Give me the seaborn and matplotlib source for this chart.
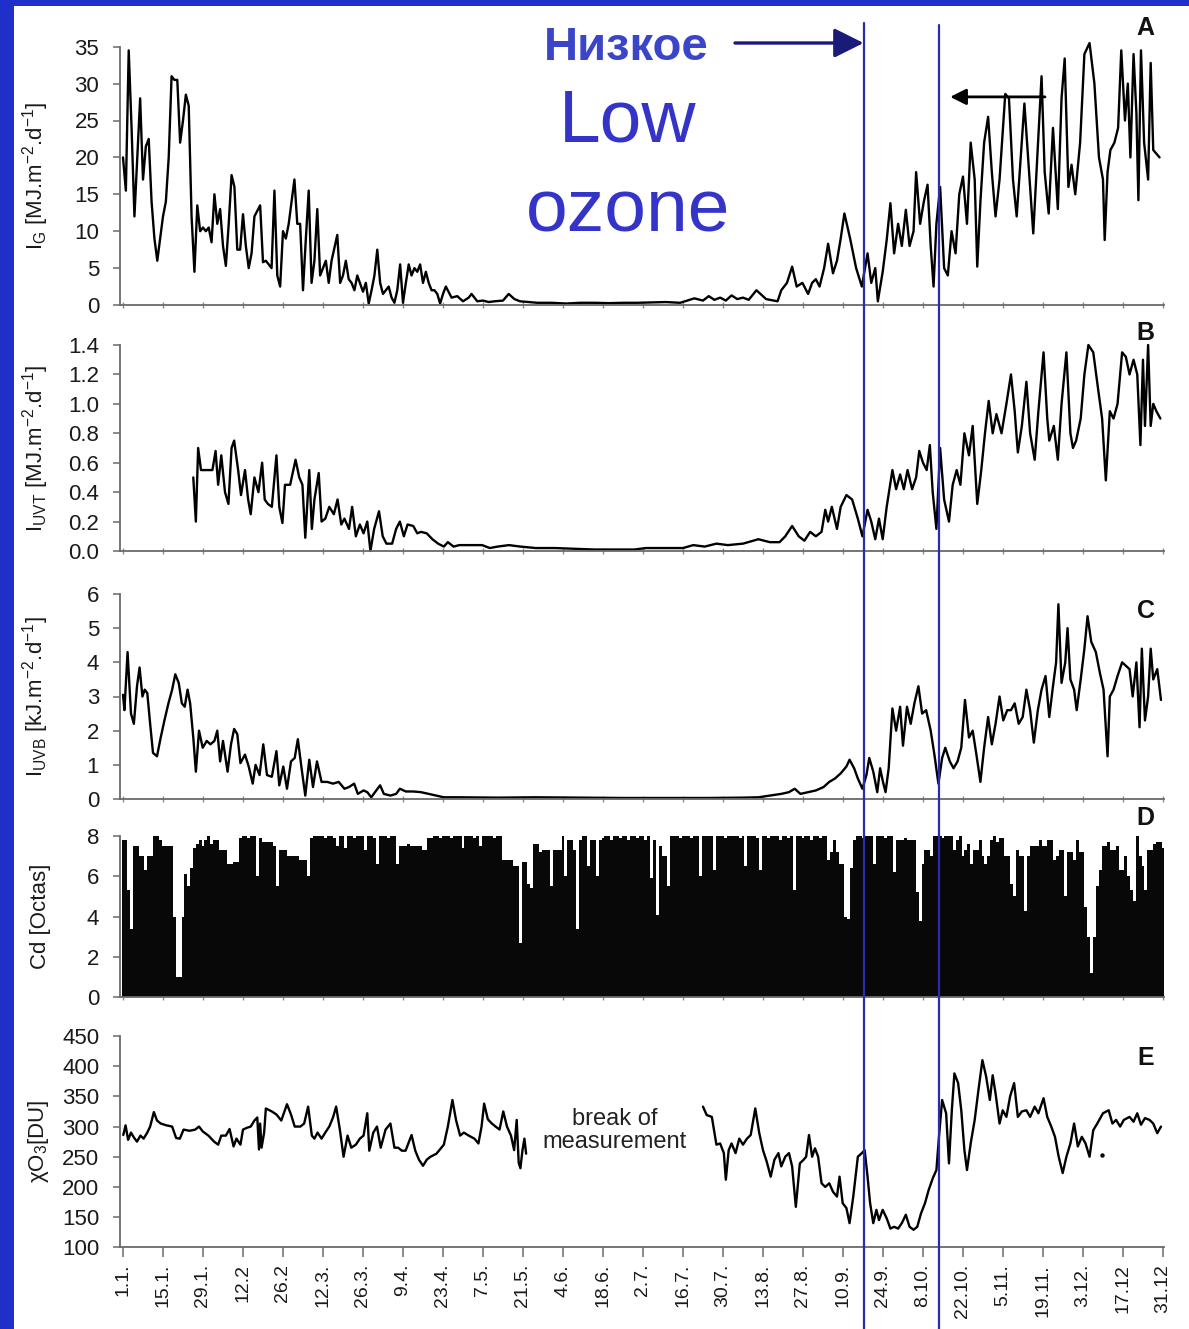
import numpy as np
import matplotlib
matplotlib.use("Agg")
import matplotlib.pyplot as plt
import matplotlib.transforms as mtransforms
from matplotlib.patches import Rectangle
from matplotlib.lines import Line2D
import seaborn as sns

sns.set_theme(style="white")
plt.rcParams["font.family"] = ["Liberation Sans", "DejaVu Sans"]
plt.rcParams["mathtext.default"] = "regular"

# ---------------- data (day of year from 1 Jan = 0) ----------------
tick_days = [0, 14, 28, 42, 56, 70, 84, 98, 112, 126, 140, 154, 168, 182, 196,
             210, 224, 238, 252, 266, 280, 294, 308, 322, 336, 350, 364]
tick_labels = ["1.1.", "15.1.", "29.1.", "12.2", "26.2", "12.3.", "26.3.", "9.4.",
               "23.4.", "7.5.", "21.5.", "4.6.", "18.6.", "2.7.", "16.7.", "30.7.",
               "13.8.", "27.8.", "10.9.", "24.9.", "8.10.", "22.10.", "5.11.",
               "19.11.", "3.12.", "17.12", "31.12"]

# A: global irradiance I_G [MJ m-2 d-1]
ig_points = [
    (0, 20), (1, 15.5), (2, 34.5), (3, 24), (4, 12), (5, 20), (6, 28), (7, 17), (8, 21.5),
    (9, 22.5), (10, 14), (11, 9), (12, 6), (13, 9), (14, 12), (15, 14), (16, 20), (17, 31),
    (18, 30.5), (19, 30.5), (20, 22), (21, 25), (22, 28.5), (23, 27), (24, 12), (25, 4.5),
    (26, 13.5), (27, 10), (28, 10.5), (29, 10), (30, 10.5), (31, 8.5), (32, 15), (33, 11),
    (34, 13), (35, 8), (36, 5.3), (37, 11), (38, 17.6), (39, 16), (40, 7.5), (41, 7.5),
    (42, 12.3), (43, 8), (44, 5), (45, 7), (46, 12), (48, 13.5), (49, 5.8), (50, 6), (52, 5),
    (53, 15.5), (54, 4), (55, 2.5), (56, 10), (57, 9), (58, 11), (60, 17), (61, 11), (62, 11),
    (63, 2), (64, 9), (65, 15.5), (66, 3), (67, 6), (68, 13), (69, 4), (70, 5), (71, 6),
    (72, 3), (73, 6), (75, 9.5), (76, 3), (77, 4), (78, 6), (79, 3.5), (80, 3), (81, 2),
    (82, 4), (84, 1.8), (85, 3), (86, 0.2), (87, 2), (88, 4), (89, 7.5), (90, 3), (91, 1.5),
    (92, 2), (93, 2.5), (94, 1), (95, 0.3), (96, 2), (97, 5.5), (98, 0.3), (99, 3), (100, 5.5),
    (101, 4), (102, 5), (103, 4.5), (104, 5.5), (105, 3), (106, 4.5), (107, 3), (108, 2),
    (109, 2), (110, 1.5), (111, 0.2), (112, 1.5), (113, 2.5), (115, 1), (117, 1.2), (119, 0.5),
    (121, 1.0), (122, 1.5), (124, 0.5), (126, 0.6), (128, 0.4), (130, 0.5), (133, 0.6),
    (135, 1.5), (137, 0.8), (139, 0.5), (142, 0.4), (145, 0.3), (150, 0.3), (155, 0.2),
    (160, 0.3), (165, 0.3), (170, 0.25), (175, 0.3), (180, 0.3), (185, 0.35), (190, 0.4),
    (195, 0.3), (200, 0.9), (203, 0.6), (205, 1.2), (207, 0.7), (209, 1.0), (211, 0.6),
    (213, 1.3), (215, 0.8), (217, 1.0), (219, 0.7), (221.7, 2.0), (225.1, 0.8), (229.1, 0.5),
    (230.4, 2), (232.4, 3), (234.2, 5.2), (235.8, 2.5), (237.8, 3), (239.8, 1.5), (241.2, 3),
    (242.5, 3.5), (243.8, 2.5), (245.4, 5), (246.8, 8.3), (248.5, 4.3), (249.9, 6), (251.2, 9),
    (252.5, 12.4), (254.5, 9), (256.6, 5), (258.6, 2.5), (260.6, 7), (261.9, 3), (263.3, 5),
    (264.2, 0.5), (265.9, 4.5), (267.3, 8.8), (268.6, 13.8), (269.9, 7), (271.3, 11),
    (272.6, 8), (274, 12.9), (275.3, 8), (276.7, 10), (277.6, 18), (279, 11), (280.3, 14),
    (281.6, 16.3), (282.7, 8), (283.7, 2.5), (284.7, 11), (286, 16), (287.4, 5), (288.7, 4),
    (290, 10), (291.4, 7), (292.7, 15), (294, 17.4), (295.4, 11), (296.7, 22), (298.1, 17),
    (299, 5.2), (300.1, 14), (301.4, 22), (302.8, 25.5), (304.1, 18), (305.4, 12), (306.8, 17),
    (308.8, 28.6), (310.1, 28), (311.5, 17), (312.8, 12), (314.2, 20), (315.5, 27.3),
    (316.8, 20), (318.6, 9.7), (320, 20), (321.5, 31), (322.6, 18), (324, 12.4), (325.5, 24),
    (327.2, 13), (328.5, 28), (329.6, 33.4), (330.9, 16), (332, 19), (333.3, 15), (335, 22),
    (336.5, 34), (338.3, 35.5), (340, 30), (341.6, 20), (343, 17), (343.6, 8.8), (344.6, 18),
    (345.6, 21), (347, 22), (348.3, 24), (349.4, 34.5), (350.7, 25), (351.7, 30), (352.6, 20),
    (353.7, 34), (354.7, 26), (355.4, 14.2), (356.3, 34.5), (357.4, 22), (358.8, 17),
    (359.7, 32.8), (360.6, 21), (361.7, 20.5), (362.8, 20),
]

# B: total UV irradiance I_UVT [MJ m-2 d-1]
uvt_points = [
    (24.6, 0.5), (25.5, 0.2), (26.3, 0.7), (27.3, 0.55), (28.6, 0.55), (29.9, 0.55),
    (31.3, 0.55), (32.4, 0.68), (33.3, 0.45), (34.4, 0.65), (35.7, 0.4), (36.9, 0.32),
    (38, 0.7), (38.9, 0.75), (40.3, 0.55), (41.3, 0.38), (42.7, 0.55), (43.8, 0.35),
    (44.7, 0.25), (46, 0.5), (47.4, 0.4), (48.7, 0.6), (49.6, 0.35), (50.7, 0.32), (52.1, 0.3),
    (53.7, 0.65), (54.7, 0.3), (55.8, 0.19), (56.7, 0.45), (58.5, 0.45), (60.4, 0.62),
    (61.7, 0.5), (62.8, 0.45), (63.8, 0.09), (65.2, 0.55), (66.1, 0.15), (67, 0.35),
    (68.5, 0.53), (69.5, 0.2), (70.8, 0.22), (72.2, 0.3), (73.8, 0.25), (75.1, 0.35),
    (76.4, 0.18), (77.5, 0.22), (79.1, 0.15), (80.2, 0.3), (81.5, 0.1), (82.9, 0.18),
    (84.2, 0.12), (85.5, 0.2), (86.6, 0.0), (87.9, 0.15), (89.6, 0.27), (90.9, 0.1),
    (92.2, 0.05), (94.2, 0.05), (95.6, 0.15), (96.9, 0.2), (98.3, 0.1), (99.6, 0.18),
    (101.6, 0.17), (103, 0.12), (104.3, 0.13), (106.3, 0.12), (108.3, 0.08), (110.3, 0.05),
    (112.3, 0.03), (113.7, 0.06), (115.7, 0.03), (117.7, 0.04), (121.7, 0.04), (125.7, 0.04),
    (128.4, 0.02), (131.1, 0.03), (135.1, 0.04), (139.1, 0.03), (144.5, 0.02), (151.2, 0.02),
    (157.9, 0.015), (165, 0.01), (172, 0.01), (179, 0.01), (183, 0.02), (190, 0.02),
    (196, 0.02), (199.6, 0.04), (203.6, 0.03), (207.7, 0.05), (211.7, 0.04), (217, 0.05),
    (222.4, 0.08), (226.4, 0.06), (229.8, 0.06), (231.8, 0.1), (234.2, 0.17), (236.5, 0.1),
    (238.5, 0.07), (240.5, 0.13), (242.5, 0.1), (244.5, 0.13), (245.8, 0.28), (246.8, 0.2),
    (248.1, 0.3), (249.9, 0.15), (251.2, 0.3), (253.2, 0.38), (255.2, 0.35), (257.2, 0.22),
    (258.8, 0.1), (260.6, 0.28), (261.9, 0.2), (263.3, 0.08), (264.6, 0.22), (265.9, 0.08),
    (267.3, 0.3), (269.3, 0.55), (270.6, 0.42), (272, 0.52), (273.3, 0.42), (274.6, 0.55),
    (276.2, 0.42), (277.6, 0.5), (278.7, 0.68), (280, 0.6), (281.3, 0.55), (282.4, 0.72),
    (283.4, 0.4), (284.7, 0.15), (286, 0.7), (287.4, 0.35), (289.1, 0.2), (290.4, 0.45),
    (291.8, 0.55), (293.1, 0.45), (294.5, 0.8), (296.1, 0.65), (297.4, 0.85), (299, 0.32),
    (300.4, 0.55), (301.7, 0.8), (303, 1.02), (304.4, 0.8), (305.7, 0.93), (307.5, 0.8),
    (309.2, 1.0), (310.8, 1.2), (312.1, 0.95), (313.2, 0.67), (314.6, 0.85), (316.2, 1.15),
    (317.5, 0.8), (319.1, 0.62), (320.4, 0.95), (322.2, 1.35), (323.5, 0.9), (324.2, 0.75),
    (325.8, 0.85), (327.2, 0.62), (328.5, 1.0), (330.2, 1.35), (331.6, 0.8), (332.5, 0.7),
    (333.6, 0.75), (335.2, 0.9), (336.5, 1.2), (337.9, 1.4), (339.6, 1.35), (341.3, 1.1),
    (342.7, 0.9), (344, 0.48), (345.4, 0.95), (346.7, 0.9), (348.1, 1.0), (349.7, 1.35),
    (351, 1.32), (352.3, 1.2), (353.7, 1.3), (355, 1.2), (356.1, 0.72), (357, 1.3),
    (357.7, 0.85), (358.8, 1.4), (359.7, 0.85), (360.6, 1.0), (361.7, 0.95), (363.1, 0.9),
]

# C: UV-B irradiance I_UVB [kJ m-2 d-1]
uvb_points = [
    (0, 3.05), (0.5, 2.6), (1.6, 4.3), (2.8, 2.5), (3.8, 2.2), (4.9, 3.3), (5.8, 3.85),
    (6.8, 3.0), (7.6, 3.2), (8.5, 3.1), (9.5, 2.2), (10.5, 1.35), (11.9, 1.25), (13.2, 1.8),
    (14.5, 2.3), (15.9, 2.8), (17.2, 3.2), (18.3, 3.65), (19.5, 3.4), (20.6, 2.8), (21.6, 2.7),
    (22.6, 3.2), (23.5, 2.8), (24.6, 1.8), (25.5, 0.8), (26.6, 2.0), (27.9, 1.5), (29.3, 1.7),
    (30.6, 1.6), (32, 1.7), (33, 2.0), (34, 1.1), (35, 1.7), (36.6, 0.8), (37.8, 1.6),
    (38.9, 2.05), (40, 1.9), (41.1, 1.05), (42.7, 1.3), (44, 0.95), (45.4, 0.45), (46.4, 1.0),
    (47.8, 0.7), (49.1, 1.6), (50.4, 0.7), (52.1, 0.65), (53.7, 1.4), (54.7, 0.4), (56.1, 0.95),
    (57.4, 0.3), (58.8, 1.1), (60.1, 1.2), (61.2, 1.75), (62.5, 0.9), (63.8, 0.1), (65.2, 1.15),
    (66.5, 0.35), (67.9, 1.1), (69.5, 0.5), (71.5, 0.5), (73.5, 0.45), (75.5, 0.5), (77.5, 0.3),
    (79.1, 0.35), (80.9, 0.45), (82.2, 0.15), (84.2, 0.25), (85.5, 0.2), (86.9, 0.05),
    (88.2, 0.2), (90, 0.4), (91.3, 0.15), (93.6, 0.1), (95.6, 0.15), (96.9, 0.3), (99, 0.22),
    (101.6, 0.22), (104.3, 0.2), (107, 0.15), (109.6, 0.1), (112.3, 0.05), (117.7, 0.05),
    (131.1, 0.04), (144.5, 0.05), (157.9, 0.04), (175, 0.03), (190, 0.03), (205, 0.03),
    (217, 0.04), (222.4, 0.05), (226.4, 0.1), (230.4, 0.15), (233.1, 0.2), (235.1, 0.3),
    (237.1, 0.15), (239.8, 0.2), (242.5, 0.25), (245.2, 0.35), (247.2, 0.5), (249.2, 0.6),
    (251.2, 0.75), (253.2, 0.95), (254.3, 1.15), (255.9, 0.9), (257.2, 0.6), (258.8, 0.3),
    (260.2, 0.7), (261.2, 1.2), (262.6, 0.8), (264, 0.2), (265, 0.9), (266, 0.5), (266.9, 0.2),
    (268, 0.9), (269.3, 2.65), (270.6, 2.0), (272, 2.7), (273, 1.56), (274.4, 2.7),
    (275.7, 2.2), (277, 2.8), (278.4, 3.3), (279.7, 2.5), (281.1, 2.6), (282.7, 2.0),
    (284, 1.3), (285.4, 0.45), (286.7, 1.2), (287.8, 1.5), (289.4, 1.1), (290.7, 0.9),
    (292.1, 1.1), (293.4, 1.5), (294.7, 2.9), (296.1, 1.8), (297.4, 2.0), (298.7, 1.3),
    (300.1, 0.5), (301.4, 1.5), (302.8, 2.4), (304.1, 1.6), (305.4, 2.2), (306.8, 3.0),
    (308.1, 2.3), (309.5, 2.6), (310.8, 2.6), (312.1, 2.8), (313.5, 2.2), (314.9, 2.4),
    (316.2, 3.2), (317.5, 2.6), (318.8, 1.65), (320.2, 2.6), (321.5, 3.2), (322.9, 3.6),
    (324.2, 2.4), (325.5, 3.3), (326.6, 4.0), (327.4, 5.7), (328.5, 3.4), (329.8, 4.0),
    (330.6, 5.0), (331.6, 3.5), (332.9, 3.2), (333.8, 2.6), (335.2, 3.5), (336.5, 4.4),
    (337.6, 5.35), (338.9, 4.6), (340.5, 4.3), (341.9, 3.7), (343.2, 3.2), (344.6, 1.25),
    (345.4, 3.0), (346.7, 3.2), (348.1, 3.6), (349.7, 4.0), (351, 3.9), (352.3, 3.8),
    (353.4, 3.0), (354.7, 4.0), (355.8, 2.1), (356.6, 4.4), (357.7, 2.3), (358.8, 3.0),
    (359.7, 4.4), (360.6, 3.5), (362, 3.8), (363.3, 2.9),
]

# D: daily cloud cover Cd [octas], 1 Jan .. 31 Dec
cloud_octas = [
    7.8, 7.8, 5.3, 3.4, 7.5, 7.5, 7.0, 7.0, 6.3, 7.0, 7.0, 8.0, 8.0, 7.8,
    7.5, 7.5, 7.5, 7.5, 4.0, 1.0, 1.0, 4.0, 6.1, 5.5, 6.4, 7.4, 7.6, 7.8,
    7.5, 7.8, 8.0, 7.6, 7.8, 7.8, 7.3, 7.3, 7.3, 6.6, 6.6, 6.7, 6.7, 7.9,
    8.0, 8.0, 7.9, 8.0, 8.0, 6.0, 7.9, 7.7, 7.7, 7.7, 7.7, 7.5, 5.5, 7.3,
    7.3, 7.3, 7.0, 7.0, 7.0, 7.0, 6.8, 6.8, 6.8, 6.0, 7.9, 8.0, 8.0, 8.0,
    8.0, 7.9, 8.0, 8.0, 7.9, 7.5, 8.0, 8.0, 7.4, 8.0, 8.0, 7.9, 8.0, 8.0,
    8.0, 7.3, 8.0, 8.0, 7.9, 6.6, 8.0, 8.0, 8.0, 7.9, 8.0, 8.0, 6.6, 7.5,
    7.5, 7.5, 7.6, 7.5, 7.5, 7.5, 7.5, 7.3, 7.3, 7.9, 7.9, 8.0, 8.0, 7.9,
    8.0, 8.0, 8.0, 7.9, 8.0, 8.0, 8.0, 7.4, 8.0, 8.0, 8.0, 7.9, 8.0, 7.5,
    8.0, 8.0, 8.0, 8.0, 7.9, 8.0, 8.0, 6.8, 6.8, 6.8, 6.8, 6.5, 6.5, 2.7,
    6.7, 6.7, 5.6, 5.4, 7.6, 7.6, 7.2, 7.3, 7.3, 7.3, 5.5, 7.3, 7.3, 7.3,
    8.0, 6.0, 7.8, 7.8, 7.3, 3.4, 7.8, 8.0, 8.0, 6.5, 7.8, 7.8, 6.0, 7.8,
    7.9, 8.0, 8.0, 7.8, 8.0, 8.0, 7.9, 8.0, 8.0, 7.8, 8.0, 8.0, 7.9, 8.0,
    8.0, 7.8, 8.0, 5.9, 7.8, 4.1, 7.5, 7.0, 7.0, 5.5, 8.0, 8.0, 8.0, 7.9,
    8.0, 8.0, 8.0, 7.9, 8.0, 8.0, 6.0, 8.0, 8.0, 8.0, 8.0, 6.3, 8.0, 8.0,
    8.0, 7.9, 8.0, 8.0, 8.0, 8.0, 7.9, 8.0, 6.5, 8.0, 8.0, 8.0, 7.9, 6.3,
    8.0, 8.0, 7.9, 8.0, 8.0, 8.0, 7.8, 8.0, 8.0, 7.9, 8.0, 5.3, 8.0, 8.0,
    7.9, 8.0, 8.0, 7.8, 8.0, 8.0, 7.9, 8.0, 8.0, 6.8, 7.2, 7.8, 7.2, 6.6,
    6.6, 4.0, 3.9, 6.4, 7.8, 8.0, 8.0, 7.9, 8.0, 8.0, 8.0, 6.6, 8.0, 8.0,
    8.0, 7.9, 8.0, 8.0, 6.2, 7.8, 7.8, 7.8, 7.9, 7.8, 7.8, 7.8, 5.2, 3.8,
    6.6, 7.3, 7.3, 7.0, 8.0, 8.0, 8.0, 7.9, 8.0, 8.0, 8.0, 7.3, 7.8, 8.0,
    7.0, 7.3, 7.6, 6.6, 7.3, 7.3, 7.8, 7.0, 6.6, 7.0, 7.8, 8.0, 7.7, 7.9,
    7.9, 7.0, 7.0, 5.6, 5.0, 7.3, 7.0, 7.0, 4.3, 7.0, 7.5, 7.5, 7.5, 7.8,
    7.5, 7.5, 7.8, 7.8, 6.8, 7.0, 7.3, 7.3, 5.0, 7.2, 7.2, 6.8, 7.8, 7.2,
    7.2, 4.5, 3.0, 1.2, 3.0, 5.5, 6.3, 7.5, 7.5, 7.7, 7.3, 7.3, 7.5, 6.3,
    6.3, 7.0, 6.0, 5.3, 4.8, 8.0, 7.0, 6.5, 5.3, 7.3, 7.3, 7.6, 7.7, 7.7, 7.4,
]

# E: total ozone column [DU] (measurement break in early summer)
ozone_points_1 = [
    (0.1, 286), (0.9, 302), (1.8, 278), (2.8, 290), (3.8, 282), (4.9, 275), (6.1, 285),
    (7.2, 280), (8.5, 290), (9.5, 300), (10.8, 324), (11.9, 310), (13.2, 305), (15.2, 302),
    (17.2, 300), (18.6, 281), (19.9, 280), (21.2, 295), (23.3, 293), (25.3, 295), (26.6, 300),
    (27.9, 292), (29.9, 285), (31.9, 275), (33.3, 270), (34.4, 285), (36, 285), (37.3, 296),
    (38.7, 267), (39.7, 280), (41.1, 270), (42, 295), (43.4, 298), (44.7, 300), (46, 310),
    (47, 315), (47.6, 262), (48, 305), (48.5, 265), (49.4, 290), (50, 330), (52.1, 325),
    (53.7, 320), (55.4, 310), (57.4, 337), (58.8, 320), (60.1, 300), (62.1, 300), (63.4, 305),
    (64.8, 333), (66.1, 285), (67, 280), (68.1, 290), (69.5, 280), (70.8, 290), (72.2, 300),
    (73.5, 315), (74.6, 333), (75.9, 295), (77.2, 250), (78.6, 285), (79.9, 265), (81.5, 270),
    (82.9, 280), (84.2, 285), (85.5, 322), (86.2, 260), (87.6, 290), (88.9, 300), (90.2, 265),
    (91.9, 295), (93.6, 305), (95, 265), (96.3, 265), (97.6, 260), (98.9, 260), (101, 286),
    (102.3, 260), (103.6, 245), (105, 235), (106.3, 245), (107.6, 250), (109.7, 255),
    (112.3, 270), (113.7, 300), (115.3, 344), (116.6, 310), (118, 285), (119.3, 290),
    (121, 285), (123, 280), (124.4, 272), (125.5, 300), (126.4, 338), (127.7, 312),
    (129.1, 305), (130.4, 300), (131.8, 295), (133.1, 325), (134.4, 300), (135.8, 285),
    (136.9, 261), (137.8, 311), (138.5, 240), (139.1, 231), (139.8, 260), (140.5, 280),
    (141.1, 255),
]
ozone_points_2 = [
    (203, 333), (204.3, 319), (206.1, 316), (207.7, 270), (209, 272), (210.3, 256),
    (211, 212), (212, 261), (213, 272), (214.4, 256), (215.7, 280), (217, 270), (218.4, 280),
    (219.7, 286), (221.3, 330), (222.7, 289), (224, 261), (225.3, 242), (226.7, 217),
    (228, 245), (229.4, 256), (230.4, 234), (231.8, 250), (233.1, 256), (234.2, 234),
    (235.5, 167), (236.9, 239), (238.2, 245), (239.1, 250), (240.1, 286), (241.2, 250),
    (242.2, 264), (243.3, 250), (244.5, 206), (245.8, 200), (247.2, 206), (248.5, 192),
    (249.9, 184), (250.8, 217), (251.9, 173), (253.2, 165), (254.3, 140), (255.6, 184),
    (257.2, 250), (258.6, 256), (259.6, 261), (260.6, 217), (261.5, 173), (262.6, 140),
    (263.7, 162), (264.6, 145), (265.9, 162), (267.3, 148), (268.6, 131), (269.9, 134),
    (271.3, 131), (272.6, 140), (274, 154), (275.3, 134), (276.7, 129), (278, 134),
    (279.3, 156), (280.7, 173), (282, 195), (283.4, 214), (284.7, 228), (285.6, 283),
    (286.7, 344), (288.1, 322), (289.1, 239), (290.1, 327), (291, 388), (292.3, 372),
    (293.4, 327), (294.5, 261), (295.4, 228), (296.7, 272), (298.1, 311), (299.4, 360),
    (300.8, 410), (302.1, 383), (303.4, 344), (304.4, 385), (305.4, 355), (306.8, 305),
    (307.9, 327), (309.2, 316), (310.5, 350), (311.9, 372), (313.2, 316), (314.6, 325),
    (316.2, 327), (317.5, 316), (319.1, 333), (320.4, 322), (322.2, 347), (323.5, 316),
    (324.9, 300), (326.2, 283), (327.5, 250), (328.9, 223), (330.2, 250), (331.6, 272),
    (332.9, 305), (334.2, 267), (335.6, 283), (336.9, 272), (338.3, 250), (339.6, 294),
    (341, 305), (343, 322), (345, 327), (346.3, 305), (347.6, 311), (349, 300), (350.3, 311),
    (352.3, 316), (353.7, 308), (355, 322), (356.3, 303), (357.7, 314), (359.3, 311),
    (360.6, 305), (362, 289), (363.3, 300),
]
ozone_single_day = [342.7]
ozone_single_val = [253]

low_ozone_bounds = [259.2, 285.6]   # days marked by the blue vertical lines

# ---------------- figure ----------------
W, H = 1189, 1329
BLUE = "#1f2fc9"
fig = plt.figure(figsize=(W / 100, H / 100), dpi=100, facecolor=BLUE)
fig.patches.append(Rectangle((14 / W, 0), 1, 1 - 6 / H, transform=fig.transFigure,
                             facecolor="white", edgecolor="none", zorder=-10))

LEFT, RIGHT = 120, 1164.4
XMIN, XMAX = -1.05, 364.5


def make_axes(top, bottom):
    ax = fig.add_axes([LEFT / W, 1 - bottom / H, (RIGHT - LEFT) / W, (bottom - top) / H])
    ax.set_facecolor("none")
    for s in ("top", "right"):
        ax.spines[s].set_visible(False)
    for s in ("left", "bottom"):
        ax.spines[s].set_color("#6a6a6a")
        ax.spines[s].set_linewidth(1.3)
    return ax


axA = make_axes(46.7, 305)
axB = make_axes(345, 551)
axC = make_axes(594, 799)
axD = make_axes(836, 997.3)
axE = make_axes(1036, 1247.3)

LINE_KW = dict(color="black", linewidth=1.7, estimator=None, sort=False)


def draw_line(ax, pts):
    d = [p[0] for p in pts]
    v = [p[1] for p in pts]
    sns.lineplot(x=d, y=v, ax=ax, **LINE_KW)
    for ln in ax.lines:
        ln.set_clip_on(False)


draw_line(axA, ig_points)
draw_line(axB, uvt_points)
draw_line(axC, uvb_points)
draw_line(axE, ozone_points_1)
draw_line(axE, ozone_points_2)
sns.scatterplot(x=ozone_single_day, y=ozone_single_val, ax=axE, color="black", s=10,
                linewidth=0)

cloud_days = list(range(len(cloud_octas)))
sns.barplot(x=cloud_days, y=cloud_octas, ax=axD, native_scale=True, width=1.0,
            color="#080808", saturation=1, errorbar=None, linewidth=0)

# axes settings
specs = [
    (axA, (0, 35), np.arange(0, 36, 5), r"I$_G$ [MJ.m$^{-2}$.d$^{-1}$]", "{:.0f}"),
    (axB, (0, 1.4), np.arange(0, 1.41, 0.2), r"I$_{UVT}$ [MJ.m$^{-2}$.d$^{-1}$]", "{:.1f}"),
    (axC, (0, 6), np.arange(0, 7, 1), r"I$_{UVB}$ [kJ.m$^{-2}$.d$^{-1}$]", "{:.0f}"),
    (axD, (0, 8), np.arange(0, 9, 2), "Cd [Octas]", "{:.0f}"),
    (axE, (100, 450), np.arange(100, 451, 50), r"$\chi$O$_3$[DU]", "{:.0f}"),
]
for ax, ylim, yt, ylab, fmt in specs:
    ax.set_xlim(XMIN, XMAX)
    ax.set_ylim(*ylim)
    ax.set_yticks(yt)
    ax.set_yticklabels([fmt.format(v) for v in yt])
    ax.set_xticks(tick_days)
    ax.set_xlabel("")
    ax.set_ylabel(ylab, fontsize=16, color="#1a1a1a")
    ax.yaxis.set_label_coords(-0.066, 0.5)
    ax.tick_params(axis="y", direction="out", length=5, width=1.1, color="#6a6a6a",
                   labelsize=16, labelcolor="#1a1a1a", pad=10, left=True)
    ax.grid(False)
    if ax is axE:
        ax.set_xticklabels(tick_labels, rotation=90, va="top", ha="center")
        ax.tick_params(axis="x", direction="out", length=7, width=1.1, color="#6a6a6a",
                       labelsize=14, labelcolor="#1a1a1a", pad=5, bottom=True)
    else:
        ax.tick_params(axis="x", direction="inout", length=4, width=1, color="#8a8a8a",
                       labelbottom=False, bottom=True)

# panel letters
for ax, ypos, letter in [(axA, 1.072, "A"), (axB, 1.058, "B"), (axC, 0.917, "C"),
                         (axD, 1.11, "D"), (axE, 0.896, "E")]:
    ax.text(0.982, ypos, letter, transform=ax.transAxes, ha="center", va="center",
            fontsize=18, fontweight="bold", color="#111111", clip_on=False)

axE.text(172, 294, "break of\nmeasurement", ha="center", va="center", fontsize=17,
         color="#222222", linespacing=1.05)

# blue vertical low-ozone lines spanning the figure
trans = mtransforms.blended_transform_factory(axA.transData, fig.transFigure)
for d, top in zip(low_ozone_bounds, [23, 25]):
    fig.add_artist(Line2D([d, d], [0, 1 - top / H], transform=trans, color="#2b2bb2",
                          linewidth=1.6, zorder=10))

# "Низкое" label with arrow to the first line
fig.text(626 / W, 1 - 48 / H, "Низкое", ha="center", va="center", fontsize=34,
         fontweight="bold", color="#3b45c9")
axA.annotate("", xy=(low_ozone_bounds[0], 1 - 43 / H), xycoords=trans,
             xytext=(214.2, 1 - 43 / H), textcoords=trans, annotation_clip=False,
             arrowprops=dict(arrowstyle="-|>,head_length=0.9,head_width=0.45",
                             mutation_scale=20, color="#1a1a7a", lw=2.4,
                             shrinkA=0, shrinkB=0))

fig.text(628 / W, 1 - 122 / H, "Low", ha="center", va="center", fontsize=54,
         color="#3434c8")
fig.text(628 / W, 1 - 212 / H, "ozone", ha="center", va="center", fontsize=54,
         color="#3434c8")

# black arrow pointing to the second line
axA.annotate("", xy=(289.5, 28.2), xytext=(322.7, 28.2), annotation_clip=False,
             arrowprops=dict(arrowstyle="-|>,head_length=0.8,head_width=0.4",
                             mutation_scale=12, color="black", lw=2.0,
                             shrinkA=0, shrinkB=0))

fig.savefig("out.png", dpi=100, facecolor=fig.get_facecolor())
